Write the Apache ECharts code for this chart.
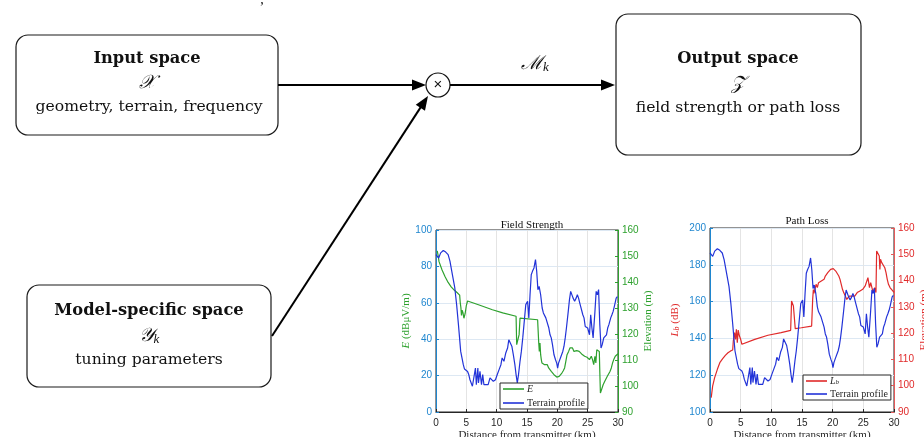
<!DOCTYPE html>
<html>
<head>
<meta charset="utf-8">
<script src="https://cdn.jsdelivr.net/npm/echarts@6/dist/echarts.min.js"></script>
<style>
html, body { margin: 0; padding: 0; background: #ffffff; }
#chart { width: 924px; height: 437px; }
</style>
</head>
<body>
<div id="chart"></div>
<script>
// Distance axis ticks (km)
const distTicks = [0, 5, 10, 15, 20, 25, 30];

// Terrain elevation along the path (m)
const terrainKm = [0.0, 0.1, 0.44, 0.77, 1.2, 1.6, 2.0, 2.3, 2.7, 3.1, 3.4, 3.7, 4.07, 4.2, 4.5, 4.7, 4.95, 5.2, 5.4, 5.6,
  5.8, 6.0, 6.3, 6.5, 6.65, 6.9, 7.0, 7.25, 7.5, 7.7, 7.9, 8.2, 8.6, 8.9, 9.2, 9.45, 9.8, 10.1, 10.4, 10.7,
  10.9, 11.2, 11.5, 11.8, 12.0, 12.3, 12.5, 12.75, 13.0, 13.2, 13.4, 13.6, 13.85, 14.07, 14.3, 14.5, 14.8, 15.1, 15.3, 15.5,
  15.7, 15.9, 16.15, 16.4, 16.6, 16.8, 17.0, 17.25, 17.5, 17.7, 17.9, 18.1, 18.35, 18.6, 18.8, 19.0, 19.2, 19.45, 19.7, 19.9,
  20.05, 20.2, 20.4, 20.65, 20.9, 21.1, 21.3, 21.5, 21.8, 22.0, 22.2, 22.4, 22.6, 22.85, 23.1, 23.3, 23.5, 23.7, 23.9, 24.2,
  24.4, 24.6, 24.8, 25.0, 25.3, 25.5, 25.7, 25.9, 26.2, 26.4, 26.6, 26.8, 27.0, 27.2, 27.4, 27.65, 27.85, 28.1, 28.3, 28.5,
  28.8, 29.0, 29.2, 29.4, 29.7, 29.9, 30.0];
const terrainElev = [150.5, 149.9, 149.2, 151.2, 152.1, 151.5, 150.5, 148.0, 142.8, 137.7, 131.3, 123.6, 113.3, 114.0, 108.2, 106.5, 106.9, 105.6, 104.4, 102.4,
  101.8, 99.9, 99.2, 106.9, 100.5, 106.9, 101.2, 105.6, 100.5, 104.4, 100.5, 101.2, 100.5, 103.1, 103.7, 101.8, 102.4, 104.4, 106.3, 108.2,
  110.8, 109.5, 112.7, 114.6, 117.8, 117.2, 115.3, 112.0, 108.2, 104.4, 101.2, 104.4, 109.5, 113.3, 118.5, 123.6, 131.3, 132.6, 126.2, 135.1,
  142.8, 144.1, 145.4, 148.6, 144.1, 137.0, 138.3, 135.1, 130.0, 128.1, 128.7, 126.2, 125.5, 122.3, 119.7, 118.5, 115.9, 112.0, 110.1, 108.8,
  106.9, 108.8, 110.1, 110.8, 113.3, 115.3, 118.5, 122.3, 128.7, 133.2, 136.4, 137.1, 133.8, 132.6, 133.8, 135.1, 133.8, 131.9, 131.3, 127.4,
  126.2, 122.9, 123.6, 122.3, 119.7, 127.4, 122.3, 118.5, 128.7, 136.4, 135.1, 137.1, 123.6, 114.6, 115.9, 118.5, 119.1, 119.7, 122.3, 123.6,
  126.2, 127.4, 128.7, 130.6, 133.8, 134.4, 133.8];

// Received field strength E (dBuV/m)
const fieldKm = [0.2, 0.35, 0.5, 1.0, 1.5, 2.0, 2.5, 3.0, 3.5, 3.9, 4.0, 4.1, 4.2, 4.3, 4.45, 4.6, 4.8, 5.0, 5.2, 5.4,
  7.0, 9.3, 11.0, 13.2, 13.3, 13.45, 13.55, 13.7, 13.85, 16.75, 16.92, 17.03, 17.14, 17.25, 17.36, 17.47, 17.69, 17.9, 18.1, 18.35,
  18.57, 18.79, 19.0, 19.2, 19.45, 19.66, 19.9, 20.1, 20.3, 20.5, 20.75, 20.98, 21.2, 21.4, 21.6, 21.86, 22.08, 22.3, 22.5, 22.74,
  22.96, 23.2, 23.4, 23.6, 23.8, 24.0, 24.2, 24.5, 24.7, 24.9, 25.1, 25.3, 25.6, 25.8, 26.0, 26.2, 26.35, 26.5, 26.7, 26.8,
  26.92, 27.0, 27.1, 27.35, 27.55, 27.8, 28.0, 28.24, 28.5, 28.68, 28.9, 29.1, 29.3, 29.55, 29.78, 30.0];
const fieldE = [88.5, 86.0, 82.6, 78.0, 74.3, 71.2, 68.8, 67.0, 65.5, 64.2, 60.0, 57.5, 53.0, 56.0, 54.5, 51.5, 54.0, 58.5, 61.0, 60.4,
  58.9, 56.2, 54.5, 52.6, 37.0, 36.0, 37.0, 42.5, 51.6, 50.7, 38.8, 33.3, 37.9, 31.5, 28.8, 26.9, 27.8, 26.0, 26.9, 26.0,
  24.2, 23.3, 22.3, 21.4, 20.5, 19.6, 19.2, 19.2, 19.6, 20.5, 21.4, 22.7, 24.2, 27.8, 31.5, 33.3, 35.2, 36.1, 35.2, 33.3,
  33.0, 33.7, 34.2, 33.3, 32.4, 31.9, 32.4, 30.6, 29.7, 30.1, 29.3, 28.8, 30.6, 28.8, 26.0, 30.6, 26.9, 34.2, 33.3, 34.8,
  33.3, 22.3, 10.4, 11.4, 15.0, 16.8, 17.8, 19.6, 20.5, 22.3, 24.2, 26.9, 28.8, 30.6, 31.5, 32.0];

// Basic transmission loss Lb (dB)
const lossKm = [0.2, 0.43, 0.76, 1.2, 1.6, 2.07, 2.5, 2.93, 3.37, 3.7, 3.8, 4.0, 4.15, 4.3, 4.45, 4.6, 4.8, 5.0, 5.2, 7.3,
  9.45, 11.6, 13.15, 13.3, 13.5, 13.6, 13.9, 14.9, 16.57, 16.74, 16.85, 16.95, 17.06, 17.3, 17.5, 17.7, 17.93, 18.15, 18.4, 18.6,
  18.8, 19.0, 19.2, 19.45, 19.67, 19.9, 20.1, 20.3, 20.5, 20.75, 21.0, 21.2, 21.4, 21.6, 21.8, 22.06, 22.3, 22.5, 22.7, 22.9,
  23.15, 23.4, 23.6, 23.8, 24.0, 24.2, 24.45, 24.7, 24.9, 25.1, 25.3, 25.5, 25.75, 26.0, 26.2, 26.4, 26.6, 26.85, 27.06, 27.17,
  27.4, 27.6, 27.7, 27.8, 28.0, 28.25, 28.5, 28.7, 28.9, 29.1, 29.35, 29.6, 29.8, 30.0];
const lossLb = [107.8, 114.1, 118.7, 123.2, 126.8, 129.0, 130.8, 132.2, 133.2, 133.7, 138.6, 143.1, 139.5, 144.9, 137.7, 144.5, 141.3, 139.5, 136.8, 139.5,
  141.7, 143.1, 144.4, 160.3, 159.8, 157.6, 145.3, 145.8, 146.7, 161.2, 166.5, 164.5, 164.0, 169.4, 167.6, 170.3, 169.4, 171.2, 170.7, 172.1,
  173.9, 174.8, 175.7, 176.6, 177.5, 177.9, 177.9, 177.2, 176.6, 175.7, 173.9, 172.1, 169.4, 166.7, 164.9, 163.0, 161.2, 160.8, 163.0, 164.0,
  163.0, 162.1, 163.0, 164.0, 164.9, 164.9, 165.8, 166.7, 166.7, 167.6, 168.5, 167.6, 173.0, 167.6, 170.3, 167.6, 164.9, 167.6, 164.9, 187.5,
  186.6, 184.8, 177.5, 183.0, 181.2, 180.3, 178.4, 175.7, 172.1, 169.4, 167.6, 166.7, 165.8, 165.0];

const SERIF = '"Liberation Serif", "DejaVu Serif", serif';
const BOX_SERIF = '"DejaVu Serif", "Liberation Serif", serif';
const SANS = '"Liberation Sans", Arial, sans-serif';
const DARK = '#262626';
const BLUE_AX = '#1f86cf';
const GREEN = '#2ea12e';
const RED = '#e02a2a';
const TERRAIN = '#2233d8';

const zip = (xs, ys) => xs.map((x, i) => [x, ys[i]]);

function distAxis(gridIndex) {
  return {
    type: 'value', gridIndex, min: distTicks[0], max: distTicks[distTicks.length - 1],
    interval: distTicks[1] - distTicks[0],
    axisLine: { show: true, lineStyle: { color: DARK, width: 1 } },
    axisTick: { show: true, inside: true, length: 3, lineStyle: { color: DARK } },
    axisLabel: { color: DARK, fontFamily: SANS, fontSize: 10, margin: 6 },
    splitLine: { show: true, lineStyle: { color: '#e4e4e4', width: 1 } },
    name: 'Distance from transmitter (km)', nameLocation: 'middle', nameGap: 18,
    nameTextStyle: { color: DARK, fontFamily: SERIF, fontSize: 11 }
  };
}

function valueAxis(gridIndex, opts) {
  return {
    type: 'value', gridIndex, position: opts.position,
    min: opts.min, max: opts.max, interval: opts.interval,
    axisLine: { show: true, onZero: false, lineStyle: { color: opts.lineColor, width: 1 } },
    axisTick: { show: true, inside: true, length: 3, lineStyle: { color: opts.lineColor } },
    axisLabel: { color: opts.labelColor, fontFamily: SANS, fontSize: 10, margin: 4 },
    splitLine: { show: !!opts.split, lineStyle: { color: '#dde8f3', width: 1 } },
    name: opts.name, nameLocation: 'middle', nameGap: opts.nameGap,
    nameTextStyle: {
      color: opts.nameColor, fontFamily: SERIF, fontSize: 11,
      rich: {
        i: { fontStyle: 'italic', fontFamily: SERIF, fontSize: 11, color: opts.nameColor },
        sub: { fontStyle: 'italic', fontFamily: SERIF, fontSize: 8, color: opts.nameColor, verticalAlign: 'bottom', padding: [4, 0, 0, 0] }
      }
    }
  };
}

// Arrow head as a filled triangle pointing at (x2, y2)
function arrowHead(x1, y1, x2, y2, len, half) {
  const dx = x2 - x1, dy = y2 - y1;
  const d = Math.hypot(dx, dy);
  const ux = dx / d, uy = dy / d;
  const bx = x2 - ux * len, by = y2 - uy * len;
  return {
    type: 'polygon', z: 10,
    shape: { points: [[x2, y2], [bx - uy * half, by + ux * half], [bx + uy * half, by - ux * half]] },
    style: { fill: '#000' }
  };
}
function arrowShaft(x1, y1, x2, y2, len) {
  const dx = x2 - x1, dy = y2 - y1;
  const d = Math.hypot(dx, dy);
  return {
    type: 'line', z: 10,
    shape: { x1, y1, x2: x2 - dx / d * (len - 1), y2: y2 - dy / d * (len - 1) },
    style: { stroke: '#000', lineWidth: 2 }
  };
}

function box(x, y, w, h) {
  return { type: 'rect', z: 5, shape: { x, y, width: w, height: h, r: 12 },
    style: { fill: '#fff', stroke: '#1a1a1a', lineWidth: 1.2 } };
}
function label(x, y, text, font, rich) {
  const st = { text, x, y, align: 'center', verticalAlign: 'middle', font, fill: '#111' };
  if (rich) st.rich = rich;
  return { type: 'text', z: 11, style: st };
}

const mathRich = {
  m: { font: 'italic 19px ' + SERIF, fill: '#111' },
  s: { font: 'italic 13px ' + SERIF, fill: '#111', padding: [8, 0, 0, 0] }
};

const HEAD_FONT = 'bold 16.3px ' + BOX_SERIF;
const BODY_FONT = '15.6px ' + BOX_SERIF;

const diagram = [
  box(16, 35, 262, 100),
  box(616, 14, 245, 141),
  box(27, 285, 244, 102),
  label(147, 59, 'Input space', HEAD_FONT),
  label(147, 83, '{m|𝒳}', '19px ' + SERIF, mathRich),
  label(149, 107, 'geometry, terrain, frequency', BODY_FONT),
  label(738, 59, 'Output space', HEAD_FONT),
  label(738, 84, '{m|𝒵}', '19px ' + SERIF, mathRich),
  label(738, 108, 'field strength or path loss', BODY_FONT),
  label(149, 311, 'Model-specific space', HEAD_FONT),
  label(149, 336, '{m|𝒴}{s|k}', '19px ' + SERIF, mathRich),
  label(149, 360, 'tuning parameters', BODY_FONT),
  label(535, 64, '{m|ℳ}{s|k}', '19px ' + SERIF, mathRich),
  label(262, 0, ',', '14px ' + SERIF),
  { type: 'circle', z: 10, shape: { cx: 438, cy: 85, r: 12 }, style: { fill: '#fff', stroke: '#111', lineWidth: 1.2 } },
  label(438, 85, '×', '15px ' + SANS),
  arrowShaft(278, 85, 426, 85, 14), arrowHead(278, 85, 426, 85, 14, 5.5),
  arrowShaft(450, 85, 615, 85, 14), arrowHead(450, 85, 615, 85, 14, 5.5),
  arrowShaft(272, 336, 428, 96, 14), arrowHead(272, 336, 428, 96, 14, 5.5)
];

const legendRich = {
  i: { fontStyle: 'italic', fontFamily: SERIF, fontSize: 10, color: DARK },
  sub: { fontStyle: 'italic', fontFamily: SERIF, fontSize: 7, color: DARK, verticalAlign: 'bottom', padding: [3, 0, 0, 0] }
};
function legendBox(names, left, top, gap) {
  return {
    data: names, orient: 'vertical', left, top,
    icon: 'rect', itemWidth: 21, itemHeight: 1.6, itemGap: gap,
    padding: [1, 3, 1, 3],
    backgroundColor: '#ffffff', borderColor: DARK, borderWidth: 1, borderRadius: 0,
    selectedMode: false,
    textStyle: { fontFamily: SERIF, fontSize: 10, color: DARK, padding: [0, 0, 0, -2], rich: legendRich },
    formatter: n => n === 'E' ? '{i|E}' : (n === 'L_b' ? '{i|L}{sub|b}' : n)
  };
}

const chart = echarts.init(document.getElementById('chart'), null, { renderer: 'canvas' });
chart.setOption({
  animation: false,
  backgroundColor: '#ffffff',
  title: [
    { text: 'Field Strength', left: 527, top: 215, textAlign: 'center',
      textStyle: { fontFamily: SERIF, fontSize: 11, fontWeight: 'normal', color: '#111' } },
    { text: 'Path Loss', left: 802, top: 211, textAlign: 'center',
      textStyle: { fontFamily: SERIF, fontSize: 11, fontWeight: 'normal', color: '#111' } }
  ],
  grid: [
    { left: 436, top: 230, width: 182, height: 182, show: true, borderColor: DARK, borderWidth: 1,
      backgroundColor: 'transparent', outerBoundsMode: 'none', containLabel: false },
    { left: 710, top: 228, width: 184, height: 184, show: true, borderColor: DARK, borderWidth: 1,
      backgroundColor: 'transparent', outerBoundsMode: 'none', containLabel: false }
  ],
  xAxis: [distAxis(0), distAxis(1)],
  yAxis: [
    valueAxis(0, { position: 'left', min: 0, max: 100, interval: 20, split: true, lineColor: BLUE_AX, labelColor: BLUE_AX,
      name: '{i|E} (dBμV/m)', nameColor: GREEN, nameGap: 16 }),
    valueAxis(0, { position: 'right', min: 90, max: 160, interval: 10, lineColor: GREEN, labelColor: GREEN,
      name: 'Elevation (m)', nameColor: GREEN, nameGap: 22 }),
    valueAxis(1, { position: 'left', min: 100, max: 200, interval: 20, split: true, lineColor: BLUE_AX, labelColor: BLUE_AX,
      name: '{i|L}{sub|b} (dB)', nameColor: RED, nameGap: 29 }),
    valueAxis(1, { position: 'right', min: 90, max: 160, interval: 10, lineColor: '#e65a5a', labelColor: RED,
      name: 'Elevation (m)', nameColor: RED, nameGap: 22 })
  ],
  legend: [
    legendBox(['E', 'Terrain profile'], 500, 383, 4),
    legendBox(['L_b', 'Terrain profile'], 803, 375, 3)
  ],
  graphic: { elements: diagram },
  series: [
    { type: 'line', name: 'E', xAxisIndex: 0, yAxisIndex: 0, data: zip(fieldKm, fieldE),
      symbol: 'none', showSymbol: false, lineStyle: { color: GREEN, width: 1.2 }, itemStyle: { color: GREEN } },
    { type: 'line', name: 'Terrain profile', xAxisIndex: 0, yAxisIndex: 1, data: zip(terrainKm, terrainElev),
      symbol: 'none', showSymbol: false, lineStyle: { color: TERRAIN, width: 1.2 }, itemStyle: { color: TERRAIN } },
    { type: 'line', name: 'L_b', xAxisIndex: 1, yAxisIndex: 2, data: zip(lossKm, lossLb),
      symbol: 'none', showSymbol: false, lineStyle: { color: RED, width: 1.2 }, itemStyle: { color: RED } },
    { type: 'line', name: 'Terrain profile', xAxisIndex: 1, yAxisIndex: 3, data: zip(terrainKm, terrainElev),
      symbol: 'none', showSymbol: false, lineStyle: { color: TERRAIN, width: 1.2 }, itemStyle: { color: TERRAIN } }
  ]
});
</script>
</body>
</html>
